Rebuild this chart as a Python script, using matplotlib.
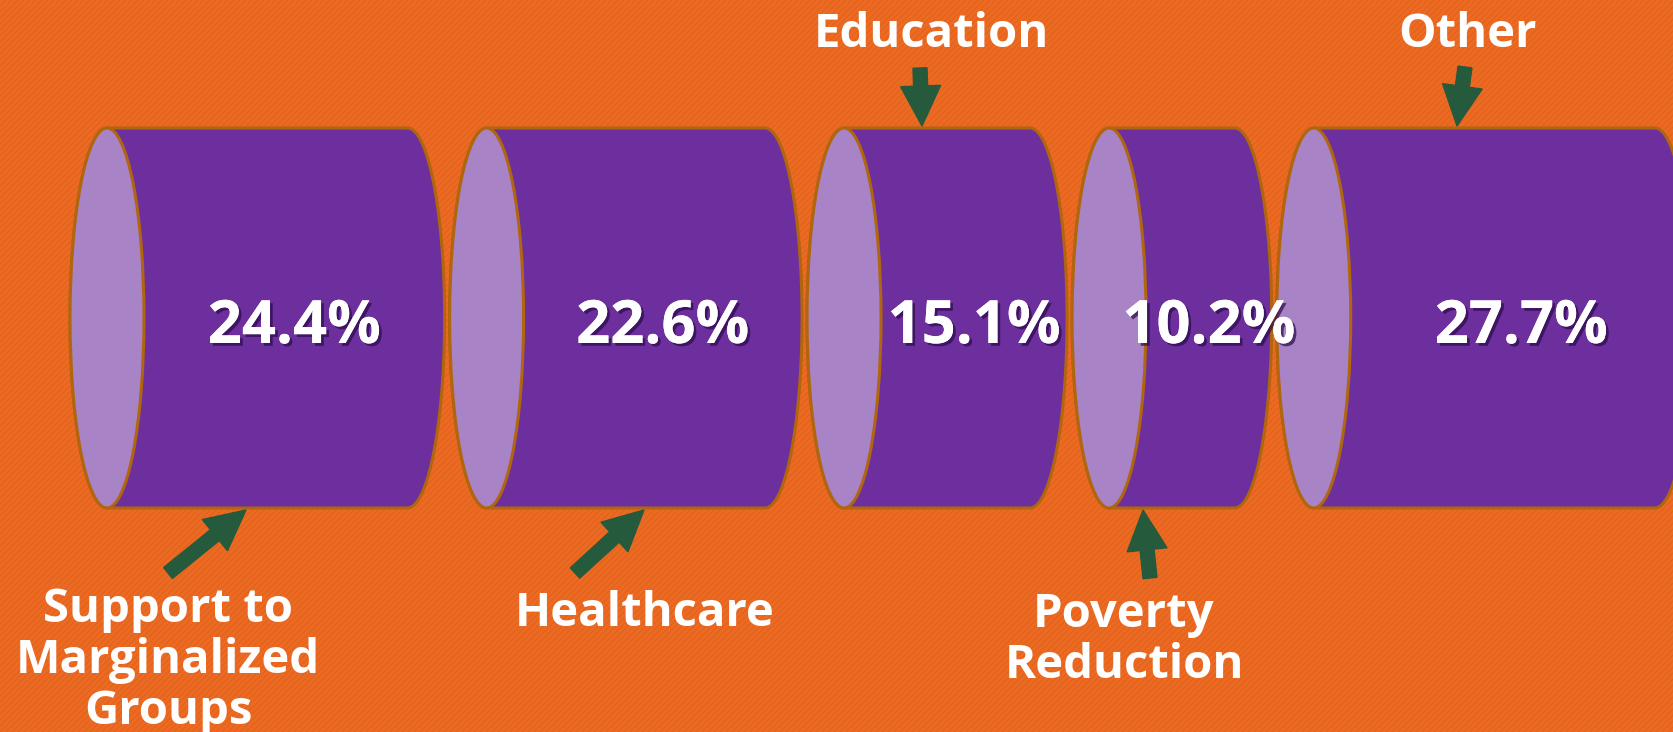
import numpy as np
import matplotlib
matplotlib.use("Agg")
import matplotlib.pyplot as plt
import matplotlib.patheffects as pe
from matplotlib.patches import Polygon, Ellipse, FancyArrow
from matplotlib.collections import LineCollection

# data
categories = ["Support to\nMarginalized\nGroups", "Healthcare", "Education",
              "Poverty\nReduction", "Other"]
values = [24.4, 22.6, 15.1, 10.2, 27.7]
value_labels = ["24.4%", "22.6%", "15.1%", "10.2%", "27.7%"]

# label layout: which side of the cylinder, label centre x, first baseline,
# arrow tail offset from the label anchor and arrow tip x offset from the label
label_side = ["bottom", "bottom", "top", "bottom", "top"]
label_x = [168, 645, 931, 1124, 1468]
label_y = [622, 626, 47, 627, 47]
tail_off = [(0, -49), (-70, -53), (-11, 21), (26, -49), (-3, 20)]
tip_dx = [78, -1, -9, 19, -11]

W, H = 1673, 732
bg = "#EC6A22"
body_col = "#6E2F9E"
cap_col = "#A883C5"
edge_col = "#B0650F"
arrow_col = "#255A3C"

fig = plt.figure(figsize=(W / 100, H / 100), dpi=100, facecolor=bg)
ax = fig.add_axes([0, 0, 1, 1])
ax.set_xlim(0, W)
ax.set_ylim(H, 0)
ax.set_facecolor(bg)
ax.set_axis_off()

# faint diagonal stripes of the background
xs = np.arange(-H, W + 10, 6.0)
segs = [[(x, H), (x + H, 0)] for x in xs]
ax.add_collection(LineCollection(segs, colors="#E2631E", linewidths=0.8, zorder=0))

# cylinders laid side by side, body length proportional to value
x_left, x_right = 70, 1692
gap = 5
a = 37      # half width of the end ellipse
cy, b = 318, 190
k = (x_right - x_left - gap * (len(values) - 1) - 2 * a * len(values)) / sum(values)

t = np.linspace(np.pi / 2, -np.pi / 2, 80)
edge = x_left
for i, v in enumerate(values):
    cl = edge + a
    cr = cl + k * v
    right_arc = np.column_stack([cr + a * np.cos(t), cy - b * np.sin(t)])
    left_arc = np.column_stack([cl - a * np.cos(t[::-1]), cy - b * np.sin(t[::-1])])
    pts = np.vstack([right_arc, left_arc])
    ax.add_patch(Polygon(pts, closed=True, facecolor=body_col, edgecolor=edge_col,
                         linewidth=2.2, zorder=2))
    ax.add_patch(Ellipse((cl, cy), 2 * a, 2 * b, facecolor=cap_col, edgecolor=edge_col,
                         linewidth=2.2, zorder=3))

    # value label
    ax.text((cl + cr) / 2 + a, cy + 25, value_labels[i], color="white",
            fontsize=43, fontweight="bold", family="Open Sans",
            ha="center", va="baseline", zorder=5,
            path_effects=[pe.withSimplePatchShadow(offset=(2, -2), shadow_rgbFace="#2a0a4a",
                                                   alpha=0.7), pe.Normal()])

    # arrow from category label to the cylinder edge
    tip_x = label_x[i] + tip_dx[i]
    tip_y = cy + b + 2 if label_side[i] == "bottom" else cy - b - 2
    tx, ty = label_x[i] + tail_off[i][0], label_y[i] + tail_off[i][1]
    ax.add_patch(FancyArrow(tx, ty, tip_x - tx, tip_y - ty, width=14, head_width=40,
                            head_length=40, length_includes_head=True,
                            color=arrow_col, zorder=4))

    # category label, one line at a time
    for j, line in enumerate(categories[i].split("\n")):
        ax.text(label_x[i], label_y[i] + j * 51, line, color="white",
                fontsize=34, fontweight="bold", family="Open Sans",
                ha="center", va="baseline", zorder=5)

    edge = cr + a + gap

fig.savefig("out.png", dpi=100, facecolor=bg)
